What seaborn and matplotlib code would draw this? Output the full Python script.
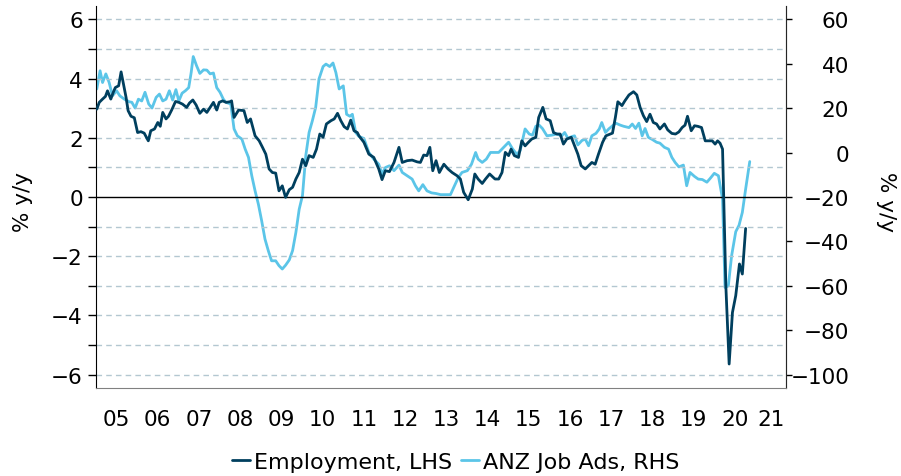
import matplotlib
matplotlib.use("Agg")
import matplotlib.pyplot as plt
import numpy as np
import pandas as pd
import seaborn as sns

# Employment, % y/y (LHS)
emp_dates = [2005.02, 2005.08, 2005.16, 2005.23, 2005.28, 2005.36, 2005.42, 2005.47, 2005.55, 2005.61,
             2005.66, 2005.73, 2005.78, 2005.85, 2005.93, 2006.01, 2006.09, 2006.17, 2006.27, 2006.33,
             2006.42, 2006.50, 2006.56, 2006.62, 2006.70, 2006.76, 2006.84, 2006.93, 2007.01, 2007.10,
             2007.20, 2007.27, 2007.35, 2007.43, 2007.52, 2007.61, 2007.69, 2007.77, 2007.85, 2007.93,
             2007.99, 2008.07, 2008.16, 2008.25, 2008.29, 2008.35, 2008.46, 2008.59, 2008.67, 2008.75,
             2008.86, 2008.96, 2009.04, 2009.12, 2009.20, 2009.28, 2009.36, 2009.44, 2009.52, 2009.60,
             2009.69, 2009.77, 2009.85, 2009.93, 2010.01, 2010.09, 2010.17, 2010.27, 2010.35, 2010.43,
             2010.51, 2010.59, 2010.70, 2010.78, 2010.86, 2010.94, 2011.02, 2011.10, 2011.18, 2011.26,
             2011.34, 2011.38, 2011.50, 2011.62, 2011.74, 2011.86, 2011.94, 2012.02, 2012.12, 2012.23,
             2012.35, 2012.43, 2012.55, 2012.67, 2012.79, 2012.87, 2012.95, 2013.03, 2013.10, 2013.17,
             2013.25, 2013.33, 2013.44, 2013.54, 2013.64, 2013.76, 2013.84, 2013.92, 2014.03, 2014.13,
             2014.19, 2014.27, 2014.37, 2014.45, 2014.55, 2014.68, 2014.77, 2014.85, 2014.93, 2015.01,
             2015.07, 2015.15, 2015.25, 2015.33, 2015.41, 2015.49, 2015.57, 2015.67, 2015.74, 2015.84,
             2015.92, 2016.02, 2016.10, 2016.18, 2016.26, 2016.34, 2016.42, 2016.53, 2016.61, 2016.69,
             2016.77, 2016.87, 2016.95, 2017.03, 2017.11, 2017.19, 2017.29, 2017.37, 2017.48, 2017.53,
             2017.60, 2017.66, 2017.76, 2017.83, 2017.93, 2018.04, 2018.12, 2018.20, 2018.28, 2018.36,
             2018.44, 2018.52, 2018.60, 2018.68, 2018.79, 2018.87, 2018.97, 2019.06, 2019.14, 2019.22,
             2019.29, 2019.35, 2019.44, 2019.52, 2019.60, 2019.69, 2019.78, 2019.86, 2019.95, 2020.02,
             2020.08, 2020.14, 2020.20, 2020.28, 2020.36, 2020.44, 2020.52, 2020.61, 2020.68, 2020.76]
emp_vals = [2.97, 3.20, 3.31, 3.40, 3.59, 3.31, 3.54, 3.70, 3.76, 4.23,
            3.87, 3.37, 2.92, 2.73, 2.68, 2.18, 2.21, 2.16, 1.90, 2.24,
            2.30, 2.52, 2.39, 2.86, 2.64, 2.73, 2.95, 3.23, 3.20, 3.14,
            3.03, 3.18, 3.28, 3.11, 2.83, 2.97, 2.86, 3.03, 3.20, 2.94,
            3.20, 3.25, 3.20, 3.22, 3.25, 2.69, 2.94, 2.92, 2.52, 2.64,
            2.07, 1.90, 1.68, 1.45, 0.95, 0.83, 0.81, 0.21, 0.38, -0.01,
            0.25, 0.33, 0.61, 0.83, 1.28, 1.06, 1.40, 1.34, 1.62, 2.13,
            2.02, 2.47, 2.58, 2.64, 2.83, 2.58, 2.38, 2.30, 2.60, 2.24,
            2.18, 2.07, 1.85, 1.45, 1.34, 0.95, 0.59, 0.89, 0.86, 1.17,
            1.68, 1.17, 1.23, 1.25, 1.19, 1.17, 1.42, 1.40, 1.68, 0.89,
            1.23, 0.83, 1.11, 0.95, 0.83, 0.72, 0.61, 0.16, -0.09, 0.27,
            0.78, 0.61, 0.46, 0.61, 0.78, 0.61, 0.61, 0.83, 1.51, 1.40,
            1.62, 1.40, 1.34, 1.90, 1.73, 1.85, 1.96, 2.02, 2.69, 3.03,
            2.64, 2.58, 2.18, 2.13, 2.13, 1.79, 1.96, 2.02, 1.73, 1.45,
            1.06, 0.95, 1.06, 1.17, 1.11, 1.45, 1.85, 2.07, 2.13, 2.16,
            2.69, 3.22, 3.09, 3.25, 3.45, 3.56, 3.45, 3.03, 2.75, 2.55,
            2.80, 2.52, 2.47, 2.30, 2.47, 2.27, 2.15, 2.13, 2.20, 2.35,
            2.43, 2.73, 2.24, 2.41, 2.39, 2.35, 1.90, 1.90, 1.90, 1.79,
            1.90, 1.82, 1.62, -3.00, -5.64, -3.90, -3.33, -2.26, -2.60, -1.06]

# ANZ Job Ads, % y/y (RHS)
ads_dates = [2005.02, 2005.10, 2005.16, 2005.24, 2005.32, 2005.40, 2005.50, 2005.58, 2005.69, 2005.81,
             2005.87, 2005.95, 2006.03, 2006.11, 2006.19, 2006.28, 2006.36, 2006.46, 2006.54, 2006.62,
             2006.70, 2006.78, 2006.86, 2006.94, 2007.01, 2007.09, 2007.17, 2007.25, 2007.31, 2007.36,
             2007.44, 2007.52, 2007.61, 2007.69, 2007.77, 2007.85, 2007.93, 2008.01, 2008.09, 2008.15,
             2008.27, 2008.35, 2008.43, 2008.54, 2008.62, 2008.70, 2008.78, 2008.86, 2008.94, 2009.02,
             2009.10, 2009.18, 2009.26, 2009.36, 2009.44, 2009.52, 2009.60, 2009.69, 2009.77, 2009.85,
             2009.93, 2010.01, 2010.09, 2010.17, 2010.25, 2010.33, 2010.41, 2010.51, 2010.58, 2010.67,
             2010.75, 2010.82, 2010.90, 2011.00, 2011.08, 2011.16, 2011.22, 2011.30, 2011.38, 2011.50,
             2011.62, 2011.74, 2011.86, 2011.94, 2012.02, 2012.12, 2012.23, 2012.35, 2012.43, 2012.55,
             2012.67, 2012.75, 2012.83, 2012.93, 2013.03, 2013.14, 2013.25, 2013.36, 2013.48, 2013.60,
             2013.68, 2013.79, 2013.88, 2014.01, 2014.11, 2014.21, 2014.27, 2014.37, 2014.47, 2014.57,
             2014.77, 2014.89, 2015.01, 2015.11, 2015.21, 2015.29, 2015.41, 2015.51, 2015.59, 2015.67,
             2015.75, 2015.83, 2015.94, 2016.06, 2016.18, 2016.30, 2016.37, 2016.45, 2016.55, 2016.61,
             2016.69, 2016.79, 2016.87, 2016.95, 2017.03, 2017.13, 2017.21, 2017.27, 2017.36, 2017.44,
             2017.52, 2017.61, 2017.72, 2017.80, 2017.93, 2018.01, 2018.09, 2018.17, 2018.25, 2018.32,
             2018.40, 2018.50, 2018.60, 2018.68, 2018.79, 2018.89, 2018.97, 2019.05, 2019.14, 2019.25,
             2019.33, 2019.41, 2019.52, 2019.61, 2019.71, 2019.82, 2019.90, 2020.00, 2020.10, 2020.20,
             2020.26, 2020.34, 2020.42, 2020.52, 2020.60, 2020.68, 2020.76, 2020.86]
ads_vals = [28.7, 36.9, 31.6, 35.5, 31.6, 25.6, 27.9, 25.6, 24.1, 22.9,
            22.7, 20.1, 24.1, 23.3, 27.2, 21.9, 20.1, 24.9, 26.4, 23.3,
            24.1, 27.9, 23.7, 28.4, 23.3, 26.8, 27.9, 29.3, 36.1, 43.3,
            39.2, 35.7, 37.3, 37.2, 35.5, 35.9, 29.3, 27.2, 24.1, 22.7,
            21.9, 10.7, 7.6, 6.1, 1.6, -2.1, -10.4, -17.2, -23.2, -30.7,
            -38.9, -44.1, -48.7, -48.7, -50.9, -52.4, -50.7, -48.3, -44.1, -35.9,
            -25.5, -19.3, -1.3, 9.1, 14.4, 20.4, 33.2, 38.8, 39.9, 38.8,
            40.4, 36.1, 28.7, 30.1, 17.3, 16.4, 17.3, 9.1, 7.3, 6.4,
            0.1, -2.9, -5.2, -9.6, -6.7, -5.9, -8.1, -5.6, -8.9, -10.4,
            -11.9, -14.9, -17.2, -14.4, -17.2, -18.1, -18.4, -18.9, -18.9, -18.9,
            -15.6, -11.2, -8.9, -8.1, -5.2, 0.1, -2.9, -4.4, -2.9, 0.1,
            0.1, 2.4, 4.7, 1.6, -0.7, 0.9, 10.7, 8.4, 7.9, 11.9,
            12.4, 10.9, 7.6, 7.9, 8.4, 7.6, 9.1, 6.4, 7.3, 7.6,
            3.5, 5.5, 6.1, 3.1, 7.6, 8.7, 10.7, 13.6, 9.1, 10.7,
            11.9, 13.3, 12.4, 11.9, 11.3, 12.9, 10.9, 13.3, 7.6, 10.9,
            6.9, 5.9, 4.7, 4.3, 2.4, 1.6, -2.1, -4.4, -6.4, -5.6,
            -14.9, -8.9, -10.7, -11.9, -12.1, -13.3, -11.6, -9.3, -10.4, -20.9,
            -60.7, -60.0, -46.4, -35.6, -32.7, -26.9, -16.4, -4.0]

years = list(range(2005, 2022))
year_labels = ["05", "06", "07", "08", "09", "10", "11", "12", "13", "14",
               "15", "16", "17", "18", "19", "20", "21"]
lhs_ticks = [-6, -4, -2, 0, 2, 4, 6]
rhs_ticks = [-100, -80, -60, -40, -20, 0, 20, 40, 60]

emp = pd.DataFrame({"date": emp_dates, "val": emp_vals})
ads = pd.DataFrame({"date": ads_dates, "val": ads_vals})

sns.set_style("white")
plt.rcParams["font.family"] = ["DejaVu Sans"]
plt.rcParams["text.color"] = "black"
plt.rcParams["axes.labelcolor"] = "black"
plt.rcParams["xtick.color"] = "black"
plt.rcParams["ytick.color"] = "black"
fs = 15.5

dark = "#003f5e"
light = "#5bc5e8"

fig = plt.figure(figsize=(9.01, 4.77), dpi=100)
ax = fig.add_axes([0.1065, 0.1845, 0.7659, 0.8005])
ax2 = ax.twinx()

xmax = 2021.74
ylo, yhi = -6.45, 6.45
ax.set_xlim(2005, xmax)
ax.set_ylim(ylo, yhi)
# RHS = LHS * 40/3 - 20  (0 on LHS lines up with -20 on RHS)
ax2.set_ylim(ylo * 40 / 3 - 20, yhi * 40 / 3 - 20)

# grid + zero line
for v in range(-6, 7):
    if v == 0:
        ax.axhline(0, color="black", lw=1.0, zorder=1)
    else:
        ax.axhline(v, color="#b3c7d1", lw=1.0, ls=(0, (4, 3)), zorder=0)

sns.lineplot(data=emp, x="date", y="val", ax=ax, color=dark, lw=2.0, zorder=4,
             label="Employment, LHS", legend=False)
sns.lineplot(data=ads, x="date", y="val", ax=ax2, color=light, lw=2.0, zorder=3,
             label="ANZ Job Ads, RHS", legend=False)
ax.set_zorder(ax2.get_zorder() + 1)
ax.patch.set_visible(False)

# x axis: ticks on year boundaries, labels in between
ax.set_xticks(years)
ax.set_xticklabels([])
mids = [y + 0.5 for y in years[:-1]] + [(years[-1] + xmax) / 2]
ax.set_xticks(mids, minor=True)
ax.set_xticklabels(year_labels, minor=True)
ax.tick_params(axis="x", which="major", direction="out", length=5, width=1, color="#444444")
ax.tick_params(axis="x", which="minor", length=0, pad=15, labelsize=fs)

ax.set_yticks(lhs_ticks)
ax.set_yticks(range(-6, 7), minor=True)
ax.tick_params(axis="y", which="both", direction="out", length=5.5, width=1, color="black",
               labelsize=fs, pad=4)
ax2.set_yticks(rhs_ticks)
ax2.tick_params(axis="y", direction="out", length=4.5, width=1, color="black", labelsize=fs, pad=41)
for t in ax2.get_yticklabels():
    t.set_ha("right")

for a in (ax, ax2):
    a.spines["top"].set_visible(False)
    a.set_xlabel("")
ax.spines["left"].set_color("black")
ax.spines["bottom"].set_color("#808080")
ax2.spines["right"].set_color("#808080")
ax2.spines["left"].set_visible(False)
ax2.spines["bottom"].set_visible(False)

ax.set_ylabel("% y/y", fontsize=fs, va="center")
ax.yaxis.set_label_coords(-0.105, 0.49)
ax2.set_ylabel("% y/y", fontsize=fs, rotation=270, va="center")
ax2.yaxis.set_label_coords(1.145, 0.49)

h1, l1 = ax.get_legend_handles_labels()
h2, l2 = ax2.get_legend_handles_labels()
fig.legend(h1 + h2, l1 + l2, loc="center", bbox_to_anchor=(0.506, 0.03), ncol=2,
           frameon=False, fontsize=16, handlelength=0.8, handletextpad=0.2,
           columnspacing=0.4)

fig.savefig("out.png", dpi=100)
